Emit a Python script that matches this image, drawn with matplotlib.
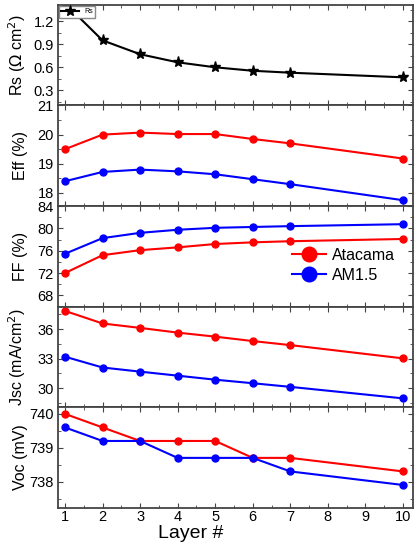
import matplotlib.pyplot as plt
import numpy as np
from matplotlib.ticker import MultipleLocator

plt.rcParams['font.family'] = ['Liberation Sans', 'DejaVu Sans']

# data
layers = [1, 2, 3, 4, 5, 6, 7, 10]
rs = [1.43, 0.95, 0.77, 0.665, 0.60, 0.555, 0.53, 0.47]
eff_atacama = [19.5, 20.0, 20.07, 20.02, 20.02, 19.85, 19.7, 19.18]
eff_am15 = [18.4, 18.72, 18.8, 18.74, 18.64, 18.47, 18.3, 17.75]
ff_atacama = [72.0, 75.2, 76.1, 76.6, 77.2, 77.5, 77.7, 78.1]
ff_am15 = [75.45, 78.25, 79.2, 79.75, 80.1, 80.25, 80.4, 80.75]
jsc_atacama = [37.86, 36.58, 36.13, 35.65, 35.24, 34.79, 34.38, 33.03]
jsc_am15 = [33.2, 32.1, 31.68, 31.27, 30.86, 30.5, 30.13, 28.96]
voc_atacama = [740.0, 739.6, 739.2, 739.2, 739.2, 738.7, 738.7, 738.3]
voc_am15 = [739.6, 739.2, 739.2, 738.7, 738.7, 738.7, 738.3, 737.9]

red = '#ff0000'
blue = '#0000ff'

fig, axs = plt.subplots(5, 1, figsize=(4.16, 5.5), dpi=100, sharex=True)
fig.subplots_adjust(left=0.139, right=0.993, top=0.991, bottom=0.077, hspace=0)

ax = axs[0]
ax.plot(layers, rs, '-*', color='black', lw=1.5, ms=8, label='Rs')
ax.set_ylim(0.104, 1.41)
ax.yaxis.set_major_locator(MultipleLocator(0.3))
ax.yaxis.set_minor_locator(MultipleLocator(0.15))
ax.set_ylabel('Rs ($\\Omega$ cm$^2$)', fontsize=11.5)
ax.legend(loc='upper left', fontsize=5, handlelength=2.5, borderpad=0.3,
          fancybox=False, edgecolor='#888888', framealpha=1,
          borderaxespad=0.2)

ax = axs[1]
ax.plot(layers, eff_atacama, '-o', color=red, lw=1.5, ms=5)
ax.plot(layers, eff_am15, '-o', color=blue, lw=1.5, ms=5)
ax.set_ylim(17.55, 21.0)
ax.yaxis.set_major_locator(MultipleLocator(1))
ax.yaxis.set_minor_locator(MultipleLocator(0.5))
ax.set_ylabel('Eff (%)', fontsize=11.5)

ax = axs[2]
ax.plot(layers, ff_atacama, '-o', color=red, lw=1.5, ms=5, label='Atacama')
ax.plot(layers, ff_am15, '-o', color=blue, lw=1.5, ms=5, label='AM1.5')
ax.set_ylim(66.0, 84.0)
ax.yaxis.set_major_locator(MultipleLocator(4))
ax.yaxis.set_minor_locator(MultipleLocator(2))
ax.set_ylabel('FF (%)', fontsize=11.5)
ax.legend(loc='upper left', bbox_to_anchor=(0.66, 0.585), fontsize=11.5,
          frameon=False, markerscale=2.1, handlelength=2.1,
          handletextpad=0.4, labelspacing=0.3, borderpad=0,
          borderaxespad=0)

ax = axs[3]
ax.plot(layers, jsc_atacama, '-o', color=red, lw=1.5, ms=5)
ax.plot(layers, jsc_am15, '-o', color=blue, lw=1.5, ms=5)
ax.set_ylim(28.07, 38.3)
ax.yaxis.set_major_locator(MultipleLocator(3))
ax.yaxis.set_minor_locator(MultipleLocator(1.5))
ax.set_ylabel('Jsc (mA/cm$^2$)', fontsize=11.5)

ax = axs[4]
ax.plot(layers, voc_atacama, '-o', color=red, lw=1.5, ms=5)
ax.plot(layers, voc_am15, '-o', color=blue, lw=1.5, ms=5)
ax.set_ylim(737.23, 740.2)
ax.yaxis.set_major_locator(MultipleLocator(1))
ax.yaxis.set_minor_locator(MultipleLocator(0.5))
ax.set_ylabel('Voc (mV)', fontsize=11.5)
ax.set_xlabel('Layer #', fontsize=14)
ax.xaxis.set_label_coords(0.375, -0.175)
ax.set_xlim(0.81, 10.27)
ax.xaxis.set_major_locator(MultipleLocator(1))
ax.xaxis.set_minor_locator(MultipleLocator(0.5))

for ax in axs:
    ax.tick_params(which='both', direction='in', top=True, right=True,
                   labelsize=10.5, color='#444444', pad=3)
    ax.tick_params(which='major', length=3.5)
    ax.tick_params(which='minor', length=2)
    ax.tick_params(axis='x', labelbottom=False)
    for s in ax.spines.values():
        s.set_color('#444444')
        s.set_linewidth(1.3)
    ax.yaxis.set_label_coords(-0.085, 0.5)
axs[4].tick_params(axis='x', labelbottom=True, pad=2)

plt.savefig('out.png')
